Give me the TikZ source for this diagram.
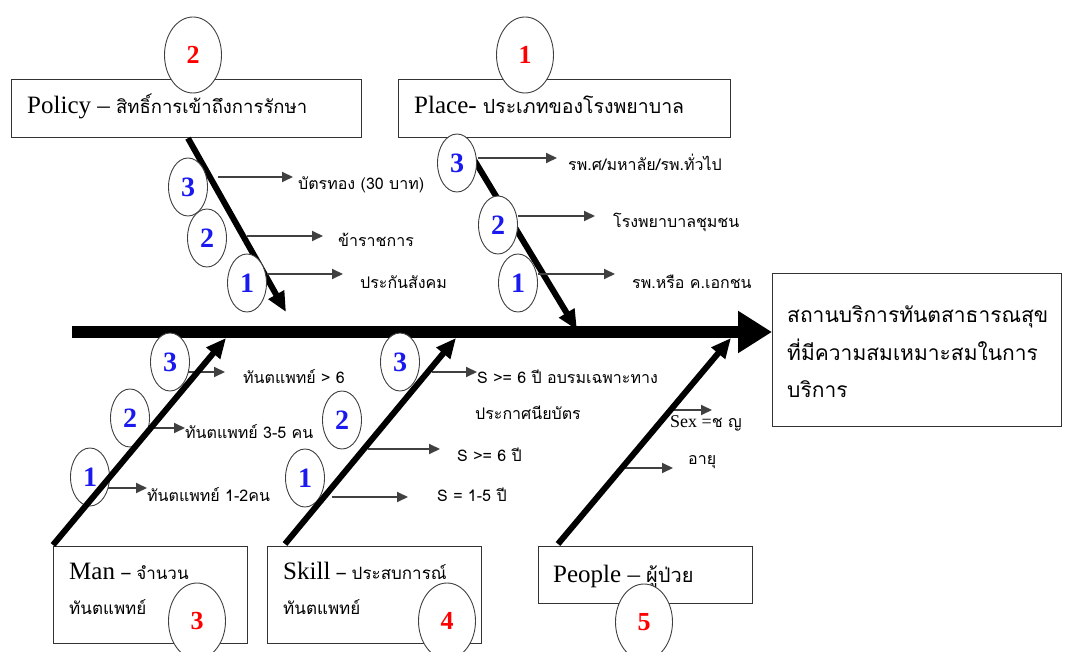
\documentclass[tikz,border=0pt]{standalone}
\usepackage{fontspec}
\setmainfont{Liberation Serif}
\newfontfamily\thaifont[Script=Thai]{Loma}
\usetikzlibrary{arrows.meta, positioning, shapes.geometric}

\definecolor{numred}{RGB}{255,0,0}
\definecolor{numblue}{RGB}{25,25,240}

\begin{document}
\begin{tikzpicture}[
            x = 1pt, y = -1pt,
            catbox/.style = {
                rectangle,
                draw          = black!80,
                line width    = 1.2pt,
                fill          = white,
                anchor        = north west,
                inner sep     = 0pt
            },
            boxtext/.style = {
                anchor    = base west,
                inner sep = 0pt,
                font      = \fontsize{25}{30}\selectfont
            },
            mainnum/.style = {
                ellipse,
                draw          = black!75,
                line width    = 0.9pt,
                fill          = white,
                minimum width = 57pt,
                minimum height = 76pt,
                inner sep     = 0pt,
                text          = numred,
                font          = \fontsize{26}{26}\selectfont\bfseries
            },
            subnum/.style = {
                ellipse,
                draw          = black!75,
                line width    = 0.9pt,
                fill          = white,
                minimum width = 39pt,
                minimum height = 58pt,
                inner sep     = 0pt,
                text          = numblue,
                font          = \fontsize{28}{28}\selectfont\bfseries
            },
            spine/.style = {line width = 12pt, -{Triangle[length = 34pt, width = 40pt]}},
            bone/.style  = {line width = 6pt, -{Triangle[length = 20pt, width = 17pt]}},
            twig/.style  = {draw = black!75, line width = 2pt, -{Triangle[length = 11pt, width = 10pt]}},
            lbl/.style   = {anchor = west, inner sep = 0pt, font = \thaifont\fontsize{16}{19}\selectfont},
            thaibig/.style = {font = \thaifont\fontsize{21}{25}\selectfont}
        ]

            \useasboundingbox (0,0) rectangle (1066,652);

            % head of the fish
            \node[catbox, minimum width = 289pt, minimum height = 153pt] (effect) at (772,273) {};
            \node[boxtext, thaibig] (effect1) at ([shift={(15,50)}]effect.north west)  {สถานบริการทันตสาธารณสุข};
            \node[boxtext, thaibig] (effect2) at ([shift={(15,87)}]effect.north west)  {ที่มีความสมเหมาะสมในการ};
            \node[boxtext, thaibig] (effect3) at ([shift={(15,124)}]effect.north west) {บริการ};

            \coordinate (tail) at (72,332);
            \draw[spine] (tail) -- (effect.west |- tail);

            % upper bones
            \node[catbox, minimum width = 350pt, minimum height = 58pt] (policy) at (11,79)  {};
            \node[catbox, minimum width = 332pt, minimum height = 58pt] (place)  at (398,79) {};
            \node[boxtext] (policytxt) at ([shift={(16,35)}]policy.north west)
                {Policy – {\thaifont\fontsize{18.5}{22}\selectfont สิทธิ์การเข้าถึงการรักษา}};
            \node[boxtext] (placetxt) at ([shift={(16,35)}]place.north west)
                {Place- {\thaifont\fontsize{19.5}{23}\selectfont ประเภทของโรงพยาบาล}};

            \coordinate (policyend) at (286,312);
            \coordinate (placeend)  at (577,330);
            \draw[bone] (policy.south -| 188,0) -- (policyend);
            \draw[bone] (place.south -| 461,0)  -- (placeend);

            \node[mainnum] (policynum) at (193,55) {2};
            \node[mainnum] (placenum)  at (525,55) {1};

            % policy causes
            \node[subnum] (p3) at (188,187) {3};
            \node[subnum] (p2) at (207,238) {2};
            \node[subnum] (p1) at (247,283) {1};
            \node[lbl] (p3t) at (298,185) {บัตรทอง (30 บาท)};
            \node[lbl] (p2t) at (338,240) {ข้าราชการ};
            \node[lbl] (p1t) at (360,282) {ประกันสังคม};
            \coordinate (p3s) at (218,177);
            \coordinate (p2s) at (247,236);
            \coordinate (p1s) at (267,274);
            \draw[twig, shorten >= 5pt]  (p3s) -- (p3s -| p3t.west);
            \draw[twig, shorten >= 15pt] (p2s) -- (p2s -| p2t.west);
            \draw[twig, shorten >= 17pt] (p1s) -- (p1s -| p1t.west);

            % place causes
            \node[subnum] (l3) at (457,163) {3};
            \node[subnum] (l2) at (498,225) {2};
            \node[subnum] (l1) at (518,283) {1};
            \node[lbl] (l3t) at (568,162) {รพ.ศ/มหาลัย/รพ.ทั่วไป};
            \node[lbl] (l2t) at (613,222) {โรงพยาบาลชุมชน};
            \node[lbl] (l1t) at (632,282) {รพ.หรือ ค.เอกชน};
            \coordinate (l3s) at (478,158);
            \coordinate (l2s) at (518,216);
            \coordinate (l1s) at (538,274);
            \draw[twig, shorten >= 11pt] (l3s) -- (l3s -| l3t.west);
            \draw[twig, shorten >= 18pt] (l2s) -- (l2s -| l2t.west);
            \draw[twig, shorten >= 17pt] (l1s) -- (l1s -| l1t.west);

            % lower bones
            \node[catbox, minimum width = 194pt, minimum height = 97pt] (man)    at (53,546)  {};
            \node[catbox, minimum width = 214pt, minimum height = 97pt] (skill)  at (267,546) {};
            \node[catbox, minimum width = 214pt, minimum height = 57pt] (people) at (538,546) {};
            \node[boxtext] (mantxt) at ([shift={(16,33)}]man.north west)
                {Man {\thaifont\fontsize{17}{20}\selectfont – จำนวน}};
            \node[boxtext, font = \thaifont\fontsize{17}{20}\selectfont] (mantxt2) at ([shift={(16,68)}]man.north west) {ทันตแพทย์};
            \node[boxtext] (skilltxt) at ([shift={(16,33)}]skill.north west)
                {Skill {\thaifont\fontsize{17}{20}\selectfont – ประสบการณ์}};
            \node[boxtext, font = \thaifont\fontsize{17}{20}\selectfont] (skilltxt2) at ([shift={(16,68)}]skill.north west) {ทันตแพทย์};
            \node[boxtext] (peopletxt) at ([shift={(15,36)}]people.north west)
                {People – {\thaifont\fontsize{20}{24}\selectfont ผู้ป่วย}};

            \node[mainnum] (mannum)    at (197,621) {3};
            \node[mainnum] (skillnum)  at (447,621) {4};
            \node[mainnum] (peoplenum) at (644,622) {5};

            % man causes
            \node[subnum] (m3) at (170,362) {3};
            \node[subnum] (m2) at (130,418) {2};
            \node[subnum] (m1) at (90,477)  {1};
            \node[lbl] (m3t) at (243,377) {ทันตแพทย์ > 6};
            \node[lbl] (m2t) at (185,432) {ทันตแพทย์ 3-5 คน};
            \node[lbl] (m1t) at (147,495) {ทันตแพทย์ 1-2คน};
            \coordinate (m3s) at (188,372);
            \coordinate (m2s) at (150,428);
            \coordinate (m1s) at (108,488);
            \draw[twig, shorten >= 18pt] (m3s) -- (m3s -| m3t.west);
            \draw[twig]                  (m2s) -- (m2s -| m2t.west);
            \draw[twig]                  (m1s) -- (m1s -| m1t.west);

            % skill causes
            \node[subnum] (s3) at (400,362) {3};
            \node[subnum] (s2) at (342,420) {2};
            \node[subnum] (s1) at (305,478) {1};
            \node[lbl] (s3t)  at (477,377) {S >= 6 ปี อบรมเฉพาะทาง};
            \node[lbl] (s3t2) at (475,413) {ประกาศนียบัตร};
            \node[lbl] (s2t)  at (457,455) {S >= 6 ปี};
            \node[lbl] (s1t)  at (437,495) {S = 1-5 ปี};
            \coordinate (s3s) at (432,372);
            \coordinate (s2s) at (368,449);
            \coordinate (s1s) at (332,497);
            \draw[twig]                  (s3s) -- (s3s -| s3t.west);
            \draw[twig, shorten >= 17pt] (s2s) -- (s2s -| s2t.west);
            \draw[twig, shorten >= 29pt] (s1s) -- (s1s -| s1t.west);

            % people causes
            \node[lbl, font = \fontsize{18}{21}\selectfont] (e2t) at (670,423)
                {Sex =\thaifont\fontsize{16}{19}\selectfont ช ญ};
            \node[lbl] (e1t) at (688,462) {อายุ};
            \coordinate (e2s) at (673,410);
            \coordinate (e1s) at (623,468);
            \draw[twig] (e2s) -- ([xshift=42pt]e2s -| e2t.west);
            \draw[twig, shorten >= 15pt] (e1s) -- (e1s -| e1t.west);

            \coordinate (manfoot)    at (53,545);
            \coordinate (skillfoot)  at (285,544);
            \coordinate (peoplefoot) at (558,544);
            \coordinate (manend)     at (226,338);
            \coordinate (skillend)   at (456,338);
            \coordinate (peopleend)  at (731,338);
            \draw[bone] (manfoot)    -- (manend);
            \draw[bone] (skillfoot)  -- (skillend);
            \draw[bone] (peoplefoot) -- (peopleend);
        \end{tikzpicture}
\end{document}
